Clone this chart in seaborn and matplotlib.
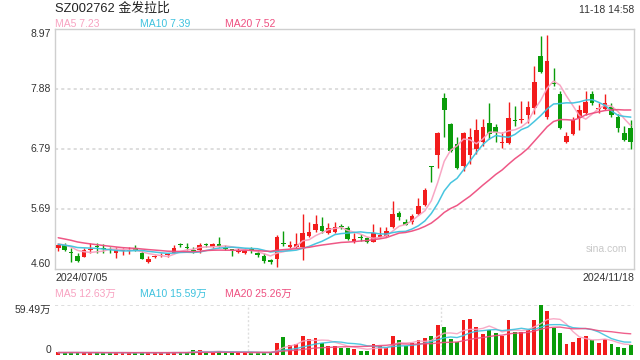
import numpy as np
import pandas as pd
import matplotlib
matplotlib.use("Agg")
import matplotlib.pyplot as plt
import matplotlib.transforms as mtransforms
import seaborn as sns

# ---------------- data ----------------
title = "SZ002762 金发拉比"
timestamp = "11-18 14:58"
start_date = "2024/07/05"
end_date = "2024/11/18"
watermark = "sina.com"

open_ = [4.99, 5.03, 4.91, 4.84, 4.82, 4.95, 5.02, 4.98, 4.96, 4.90,
         4.92, 4.93, 4.98, 4.89, 4.72, 4.81, 4.84, 4.86, 4.90, 5.05,
         5.01, 4.95, 4.94, 5.05, 5.01, 5.06, 4.99, 4.95, 4.91, 4.90,
         4.96, 4.90, 4.84, 4.76, 4.78, 5.07, 5.01, 5.00, 5.01, 5.20,
         5.31, 5.38, 5.25, 5.28, 5.38, 5.34, 5.10, 5.18, 5.16, 5.10,
         5.19, 5.20, 5.36, 5.63, 5.46, 5.45, 5.60, 5.76, 6.47, 6.68,
         7.72, 7.24, 6.88, 6.48, 6.67, 6.79, 6.91, 7.27, 7.18, 6.89,
         6.90, 7.30, 7.31, 7.41, 7.535, 8.49, 7.37, 7.98, 7.79, 6.91,
         7.06, 7.35, 7.44, 7.79, 7.52, 7.52, 7.55, 7.38, 7.08, 7.17]
close = [5.04, 4.94, 4.90, 4.75, 4.95, 4.97, 5.00, 4.96, 4.94, 4.94,
         4.94, 4.95, 4.95, 4.79, 4.78, 4.84, 4.86, 4.87, 4.99, 5.04,
         4.98, 4.92, 5.03, 5.04, 5.05, 5.02, 4.97, 4.94, 4.93, 4.92,
         4.93, 4.86, 4.75, 4.73, 5.18, 5.05, 5.03, 5.06, 5.25, 5.28,
         5.42, 5.30, 5.34, 5.36, 5.37, 5.14, 5.15, 5.16, 5.10, 5.25,
         5.22, 5.29, 5.60, 5.54, 5.41, 5.57, 5.75, 6.04, 6.46, 7.08,
         7.49, 6.76, 6.44, 7.08, 7.01, 7.13, 7.19, 7.06, 7.09, 6.90,
         7.35, 7.29, 7.32, 7.55, 8.015, 8.20, 8.40, 7.97, 7.17, 7.03,
         7.32, 7.49, 7.65, 7.63, 7.53, 7.63, 7.40, 7.17, 6.96, 6.91]
high = [5.08, 5.07, 4.98, 4.89, 4.98, 5.07, 5.07, 5.06, 5.01, 5.01,
        4.99, 5.01, 5.04, 4.92, 4.83, 4.86, 4.90, 4.90, 5.04, 5.08,
        5.08, 5.00, 5.08, 5.08, 5.08, 5.19, 5.03, 4.97, 4.98, 4.98,
        5.00, 4.95, 4.89, 4.78, 5.22, 5.29, 5.11, 5.26, 5.61, 5.46,
        5.58, 5.55, 5.43, 5.46, 5.42, 5.39, 5.25, 5.24, 5.19, 5.42,
        5.37, 5.37, 5.84, 5.66, 5.52, 5.61, 5.89, 6.07, 6.48, 7.10,
        7.80, 7.27, 7.00, 7.09, 7.17, 7.34, 7.34, 7.63, 7.24, 7.09,
        7.64, 7.57, 7.67, 7.67, 8.31, 8.85, 8.87, 8.26, 7.85, 7.10,
        7.37, 7.59, 7.84, 7.85, 7.63, 7.79, 7.63, 7.43, 7.20, 7.31]
low = [4.92, 4.92, 4.72, 4.73, 4.81, 4.89, 4.89, 4.89, 4.90, 4.80,
       4.86, 4.87, 4.92, 4.78, 4.71, 4.80, 4.81, 4.81, 4.89, 5.01,
       4.95, 4.90, 4.90, 5.01, 4.98, 5.00, 4.95, 4.84, 4.89, 4.87,
       4.90, 4.82, 4.71, 4.70, 4.63, 5.02, 4.98, 4.98, 4.76, 5.18,
       5.28, 5.26, 5.23, 5.26, 5.33, 5.13, 5.07, 5.11, 5.08, 5.09,
       5.16, 5.18, 5.34, 5.49, 5.40, 5.42, 5.59, 5.74, 6.19, 6.44,
       7.01, 6.74, 6.42, 6.39, 6.51, 6.70, 6.85, 6.97, 6.92, 6.80,
       6.88, 7.20, 7.26, 7.27, 7.43, 8.17, 7.34, 7.94, 7.15, 6.90,
       7.04, 7.14, 7.41, 7.59, 7.44, 7.49, 7.38, 7.10, 6.93, 6.79]
# volume, unit 万
volume = [3.0, 2.9, 3.2, 3.0, 2.8, 2.7, 2.8, 2.6, 2.7, 2.9,
          2.8, 2.7, 2.6, 3.1, 2.9, 2.7, 2.6, 2.7, 3.6, 2.9,
          2.8, 5.8, 5.9, 2.9, 2.8, 5.0, 2.8, 2.7, 2.6, 2.7,
          2.6, 2.7, 3.0, 2.8, 13.9, 21.8, 11.5, 12.7, 22.6, 19.4,
          20.2, 13.9, 11.1, 11.1, 8.7, 8.7, 7.1, 4.8, 4.8, 13.1,
          11.1, 8.7, 22.6, 17.8, 11.1, 13.9, 17.8, 20.6, 22.6, 35.7,
          33.3, 19.0, 15.9, 41.6, 42.8, 33.3, 25.0, 29.7, 26.2, 23.0,
          41.6, 27.4, 27.4, 29.7, 41.6, 59.49, 52.4, 32.5, 26.2, 13.1,
          15.5, 20.6, 22.6, 17.8, 14.3, 19.4, 13.1, 9.5, 8.3, 11.9]
# sessions before the first visible day (only feed the moving averages)
prior_close = [5.40, 5.38, 5.35, 5.33, 5.30, 5.28, 5.25, 5.22, 5.20, 5.19,
               5.10, 5.06, 5.02, 5.00, 5.02, 5.05, 5.08, 5.06, 5.07]
prior_volume = [3.2, 3.0, 3.4, 3.1, 2.9, 3.0, 3.3, 2.8, 3.0, 2.9,
                3.1, 2.8, 2.9, 3.0, 2.7, 2.8, 3.0, 2.9, 2.8]

price_ticks = [4.60, 5.6925, 6.785, 7.8775, 8.97]
price_tick_labels = ["4.60", "5.69", "6.79", "7.88", "8.97"]
vol_top = 59.49
vol_top_label = "59.49万"
ma_windows = [5, 10, 20]
ma_colors = ["#f8a2c1", "#3ec2de", "#ee4f80"]
ma_price_text = ["MA5 7.23", "MA10 7.39", "MA20 7.52"]
ma_vol_text = ["MA5 12.63万", "MA10 15.59万", "MA20 25.26万"]

RED = "#f21c1c"
GREEN = "#0a9c0a"
GRID = "#dedede"
BORDER = "#cfcfcf"
TXT = "#333333"

# ---------------- figure ----------------
sns.set_theme(style="white")
plt.rcParams['font.family'] = ['Liberation Sans', 'Noto Sans CJK SC', 'DejaVu Sans']

n = len(close)
idx = np.arange(n)
df = pd.DataFrame({"i": idx, "open": open_, "close": close, "high": high,
                   "low": low, "vol": volume})
df["up"] = df["close"] >= df["open"]
full_c = pd.Series(prior_close + close)
full_v = pd.Series(prior_volume + volume)
for w in ma_windows:
    df[f"ma{w}"] = full_c.rolling(w).mean().iloc[len(prior_close):].values
    df[f"vma{w}"] = full_v.rolling(w).mean().iloc[len(prior_volume):].values

W, H = 640, 360
fig = plt.figure(figsize=(6.4, 3.6), dpi=100)
fig.patch.set_facecolor("white")
L, R = 55, 634
axp = fig.add_axes([L / W, 1 - 269 / H, (R - L) / W, (269 - 29.3) / H])
axv = fig.add_axes([L / W, 1 - 355 / H, (R - L) / W, 50 / H])

# price panel
for y in price_ticks[1:-1]:
    axp.axhline(y, color=GRID, lw=1.4, ls=(0, (1.6, 1.6)), zorder=0)
colors = np.where(df["up"], RED, GREEN)
axp.vlines(df["i"], df["low"], df["high"], colors=colors, lw=1.0, zorder=2)
body_bottom = np.minimum(df["open"], df["close"])
body_h = np.maximum(np.abs(df["close"] - df["open"]), 0.018)
axp.bar(df["i"], body_h, bottom=body_bottom, width=0.72, color=colors,
        linewidth=0, zorder=3)
for w, c in zip(ma_windows, ma_colors):
    sns.lineplot(x=df["i"], y=df[f"ma{w}"], ax=axp, color=c, lw=1.1,
                 legend=False, zorder=4, alpha=0.95)
axp.set_xlim(-0.5, n - 0.5)
axp.set_ylim(price_ticks[0], price_ticks[-1])
axp.set_xticks([]); axp.set_yticks([])
axp.set_xlabel(""); axp.set_ylabel("")
for s in axp.spines.values():
    s.set_color(BORDER); s.set_linewidth(1.0); s.set_visible(True)

trans = mtransforms.blended_transform_factory(axp.transAxes, axp.transData)
for k, (v, lab) in enumerate(zip(price_ticks, price_tick_labels)):
    va = "bottom" if k == 0 else ("top" if k == len(price_ticks) - 1 else "center")
    axp.text(-0.007, v, lab, ha="right", va=va, fontsize=7.5, color=TXT,
             transform=trans)
axp.text(0.988, 0.085, watermark, ha="right", va="center", fontsize=7.5,
         color="#c8c8c8", transform=axp.transAxes)

# volume panel
vcolors = np.where(df["up"], RED, GREEN)
axv.bar(df["i"], df["vol"], width=0.6, color=vcolors, linewidth=0, zorder=2)
for w, c in zip(ma_windows, ma_colors):
    sns.lineplot(x=df["i"], y=df[f"vma{w}"], ax=axv, color=c, lw=1.0,
                 legend=False, zorder=3, alpha=0.9)
axv.axhline(vol_top, color=GRID, lw=1.4, ls=(0, (1.6, 1.6)), zorder=0)
for xv in [n / 3 - 0.5, 2 * n / 3 - 0.5]:
    axv.axvline(xv, color=GRID, lw=1.0, ls=(0, (1.5, 1.5)), zorder=0)
axv.set_xlim(-0.5, n - 0.5)
axv.set_ylim(0, vol_top)
axv.set_xticks([]); axv.set_yticks([])
axv.set_xlabel(""); axv.set_ylabel("")
for s in axv.spines.values():
    s.set_visible(False)
vtrans = mtransforms.blended_transform_factory(axv.transAxes, axv.transData)
axv.text(-0.007, vol_top, vol_top_label, ha="right", va="top", fontsize=7.5,
         color=TXT, transform=vtrans)
axv.text(-0.007, 0, "0", ha="right", va="bottom", fontsize=7.5,
         color=TXT, transform=vtrans)

# header / footer texts
def ftext(x, y, s, **kw):
    fig.text(x / W, 1 - y / H, s, **kw)

ftext(L, 8.5, title, ha="left", va="center", fontsize=9.3, color="#222222")
ftext(R, 10, timestamp, ha="right", va="center", fontsize=7.5, color=TXT)
for xpos, s, c in zip([L, 140, 225], ma_price_text, ma_colors):
    ftext(xpos, 24, s, ha="left", va="center", fontsize=7.5, color=c)
for xpos, s, c in zip([L, 140, 225], ma_vol_text, ma_colors):
    ftext(xpos, 294, s, ha="left", va="center", fontsize=7.5, color=c)
ftext(L, 278, start_date, ha="left", va="center", fontsize=7.6, color=TXT)
ftext(R, 278, end_date, ha="right", va="center", fontsize=7.6, color=TXT)

fig.savefig("out.png", dpi=100, facecolor="white")
